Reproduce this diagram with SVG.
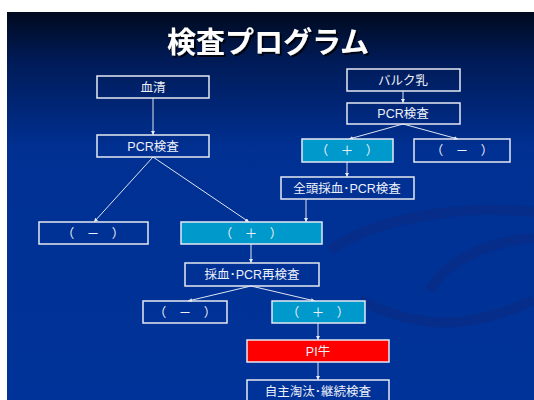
<svg xmlns="http://www.w3.org/2000/svg" width="534" height="400" viewBox="0 0 534 400">
<defs>
<linearGradient id="bg" x1="0" y1="0" x2="0" y2="1" gradientUnits="objectBoundingBox">
<stop offset="0" stop-color="#000a1e"/>
<stop offset="0.12" stop-color="#001a55"/>
<stop offset="0.35" stop-color="#003092"/>
<stop offset="1" stop-color="#003399"/>
</linearGradient>
<filter id="sh" x="-10%" y="-20%" width="130%" height="150%">
<feDropShadow dx="2" dy="2" stdDeviation="0.6" flood-color="#000000" flood-opacity="0.8"/>
</filter>
<marker id="ah" viewBox="0 0 8 8" refX="8" refY="4" markerWidth="4" markerHeight="4" orient="auto" markerUnits="userSpaceOnUse">
<path d="M0,0 L8,4 L0,8 z" fill="#e8ecf8"/>
</marker>
<style>
.box{stroke:#e6e9f2;stroke-width:1.5;fill:none}
.cy{fill:#0099cc}
.rd{fill:#ff0000}
.t{font-family:"Liberation Sans","Noto Sans CJK JP",sans-serif;font-size:12.5px;fill:#eef0f8;text-anchor:middle}
.c{stroke:#dfe4f2;stroke-width:1;fill:none;marker-end:url(#ah)}
</style>
</defs>
<rect x="0" y="0" width="534" height="400" fill="#ffffff"/>
<rect x="7" y="12" width="527" height="388" fill="url(#bg)"/>
<g fill="none" stroke="#0a2c86" stroke-width="10" opacity="0.7">
<path d="M330,250 C380,215 470,205 534,212"/>
<path d="M430,290 C450,255 500,240 534,238"/>
<path d="M360,300 C420,330 470,330 534,300"/>
</g>
<text x="268" y="53" font-family="'Noto Sans CJK JP',sans-serif" font-weight="bold" font-size="29" fill="#ffffff" text-anchor="middle" filter="url(#sh)">検査プログラム</text>
<g id="connectors">
<line class="c" x1="153" y1="98" x2="153" y2="135"/>
<line class="c" x1="153" y1="157" x2="94" y2="222"/>
<line class="c" x1="153" y1="157" x2="249" y2="222"/>
<line class="c" x1="403" y1="91" x2="403" y2="103"/>
<line class="c" x1="403" y1="124" x2="349" y2="139"/>
<line class="c" x1="403" y1="124" x2="458" y2="139"/>
<line class="c" x1="347" y1="162" x2="347" y2="177"/>
<line class="c" x1="306" y1="199" x2="306" y2="222"/>
<line class="c" x1="251" y1="244" x2="251" y2="263"/>
<line class="c" x1="251" y1="286" x2="188" y2="301"/>
<line class="c" x1="251" y1="286" x2="315" y2="301"/>
<line class="c" x1="318" y1="323" x2="318" y2="340"/>
<line class="c" x1="318" y1="362" x2="318" y2="380"/>
</g>
<g id="serum"><rect class="box" x="97" y="76" width="112" height="22"/><text class="t" x="153" y="92">血清</text></g>
<g id="pcr-left"><rect class="box" x="97" y="135" width="112" height="22"/><text class="t" x="153" y="151">PCR検査</text></g>
<g id="bulk"><rect class="box" x="347" y="69" width="113" height="22"/><text class="t" x="403" y="85">バルク乳</text></g>
<g id="pcr-right"><rect class="box" x="347" y="103" width="113" height="21"/><text class="t" x="403" y="118">PCR検査</text></g>
<g id="pos-right"><rect class="box cy" x="302" y="139" width="91" height="23"/><text class="t" x="347" y="155">（　＋　）</text></g>
<g id="neg-right"><rect class="box" x="414" y="139" width="96" height="23"/><text class="t" x="462" y="155">（　－　）</text></g>
<g id="herd"><rect class="box" x="281" y="177" width="133" height="22"/><text class="t" x="347" y="193">全頭採血･PCR検査</text></g>
<g id="neg-left"><rect class="box" x="39" y="222" width="109" height="22"/><text class="t" x="93" y="238">（　－　）</text></g>
<g id="pos-mid"><rect class="box cy" x="181" y="222" width="141" height="22"/><text class="t" x="251" y="238">（　＋　）</text></g>
<g id="retest"><rect class="box" x="185" y="263" width="134" height="23"/><text class="t" x="252" y="279">採血･PCR再検査</text></g>
<g id="neg-low"><rect class="box" x="143" y="301" width="84" height="22"/><text class="t" x="185" y="317">（　－　）</text></g>
<g id="pos-low"><rect class="box cy" x="272" y="301" width="93" height="22"/><text class="t" x="318" y="317">（　＋　）</text></g>
<g id="pi"><rect class="box rd" x="247" y="340" width="142" height="22"/><text class="t" x="318" y="356">PI牛</text></g>
<g id="cull"><rect class="box" x="247" y="380" width="142" height="26"/><text class="t" x="318" y="396">自主淘汰･継続検査</text></g>
</svg>
